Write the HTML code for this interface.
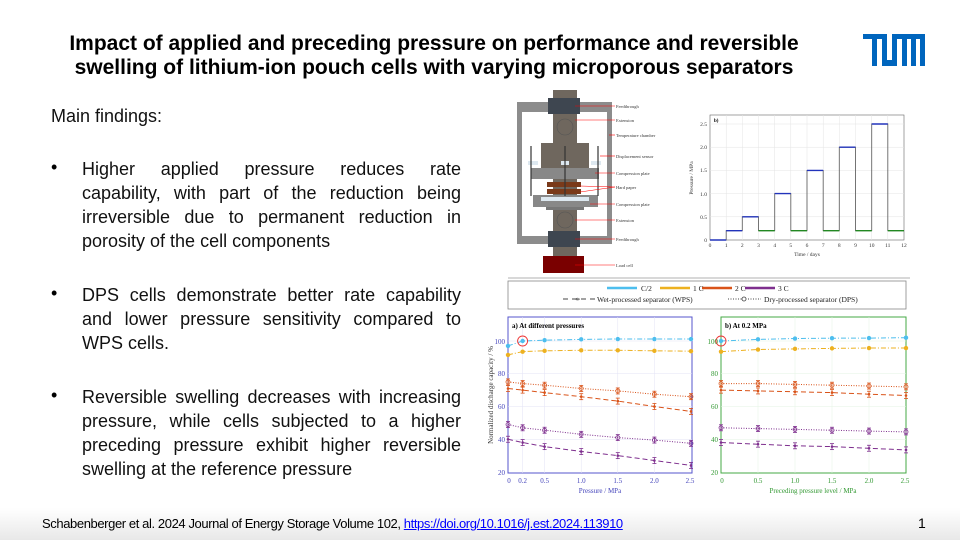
<!DOCTYPE html>
<html><head><meta charset="utf-8"><style>
html,body{margin:0;padding:0}
body{width:960px;height:540px;position:relative;overflow:hidden;background:#fff;font-family:"Liberation Sans",Arial,sans-serif}
.title{position:absolute;left:34px;top:32px;width:800px;text-align:center;font-weight:bold;font-size:21px;line-height:24px;color:#000;white-space:nowrap}
.txt{position:absolute;left:51px;width:410px;font-size:18px;line-height:24px;color:#111}
.b{position:absolute;left:51px;font-size:18px}
.bt{position:absolute;left:82px;width:379px;font-size:18px;line-height:24px;color:#111}
.bt div{text-align:justify;text-align-last:justify;white-space:nowrap}
.bt div.l{text-align-last:left}
.foot{position:absolute;left:0;top:508px;width:960px;height:32px;background:linear-gradient(#fff,#e8e8e8)}
.ref{position:absolute;left:42px;top:516px;font-size:13px;color:#000;letter-spacing:-0.4px}
.ref a{color:#00f;text-decoration:underline}
.pg{position:absolute;left:918px;top:515px;font-size:14px}
svg{position:absolute;left:0;top:0}
</style></head><body>
<div class="title">Impact of applied and preceding pressure on performance and reversible<br>swelling of lithium-ion pouch cells with varying microporous separators</div>
<div class="txt" style="top:104px">Main findings:</div>
<div class="b" style="top:157px">•</div>
<div class="bt" style="top:157px"><div>Higher applied pressure reduces rate</div><div>capability, with part of the reduction being</div><div>irreversible due to permanent reduction in</div><div class="l">porosity of the cell components</div></div>
<div class="b" style="top:283px">•</div>
<div class="bt" style="top:283px"><div>DPS cells demonstrate better rate capability</div><div>and lower pressure sensitivity compared to</div><div class="l">WPS cells.</div></div>
<div class="b" style="top:385px">•</div>
<div class="bt" style="top:385px"><div>Reversible swelling decreases with increasing</div><div>pressure, while cells subjected to a higher</div><div>preceding pressure exhibit higher reversible</div><div class="l">swelling at the reference pressure</div></div>
<div class="foot"></div>
<div class="ref">Schabenberger et al. 2024 Journal of Energy Storage Volume 102, <a>https://doi.org/10.1016/j.est.2024.113910</a></div>
<div class="pg">1</div>

<svg width="960" height="540" xmlns="http://www.w3.org/2000/svg" font-family="Liberation Serif, serif">
<!-- TUM logo -->
<g fill="#0065BD">
<rect x="863" y="34" width="24" height="5"/>
<rect x="892" y="34" width="33" height="5"/>
<rect x="872" y="34" width="5" height="32"/>
<rect x="882" y="34" width="5" height="32"/>
<rect x="882" y="60" width="15" height="6"/>
<rect x="892" y="34" width="5" height="32"/>
<rect x="902" y="34" width="5" height="32"/>
<rect x="911" y="34" width="5" height="32"/>
<rect x="920" y="34" width="5" height="32"/>
</g>
<!-- apparatus -->
<rect x="517" y="102" width="95" height="142" fill="#8c8c8c"/>
<rect x="522" y="112" width="85" height="124" fill="#fff"/>
<rect x="553" y="90" width="24" height="166" fill="#6f675e"/>
<rect x="548" y="98" width="32" height="16" fill="#3e4650"/>
<rect x="548" y="231" width="32" height="16" fill="#3e4650"/>
<circle cx="565" cy="127" r="8" fill="none" stroke="#555" stroke-width="0.6"/>
<circle cx="565" cy="220" r="8" fill="none" stroke="#555" stroke-width="0.6"/>
<rect x="541" y="143" width="48" height="25" fill="#6f675e"/>
<rect x="531" y="168" width="68" height="11" fill="#888"/>
<rect x="528" y="161" width="10" height="4" fill="#dde8f0"/>
<rect x="561" y="161" width="8" height="4" fill="#dde8f0"/>
<rect x="591" y="161" width="10" height="4" fill="#dde8f0"/>
<rect x="547" y="182" width="34" height="5" fill="#7a3a1a"/>
<rect x="547" y="189" width="34" height="5" fill="#7a3a1a"/>
<rect x="533" y="195" width="65" height="12" fill="#888"/>
<rect x="541" y="197" width="48" height="4" fill="#dde8f0"/>
<rect x="546" y="207" width="38" height="3" fill="#777"/>
<g stroke="#333" stroke-width="1.2"><line x1="531" y1="146" x2="531" y2="196"/><line x1="565" y1="146" x2="565" y2="196"/><line x1="598" y1="146" x2="598" y2="196"/></g>
<rect x="543" y="256" width="41" height="17" fill="#7a0000"/>
<g stroke="#f00" stroke-width="0.6">
<line x1="575" y1="106" x2="615" y2="106"/><line x1="575" y1="120" x2="615" y2="120"/><line x1="609" y1="135" x2="615" y2="135"/><line x1="600" y1="156" x2="615" y2="156"/><line x1="595" y1="173" x2="615" y2="173"/><line x1="580" y1="186" x2="615" y2="187"/><line x1="580" y1="192" x2="615" y2="187"/><line x1="590" y1="204" x2="615" y2="204"/><line x1="575" y1="220" x2="615" y2="220"/><line x1="575" y1="239" x2="615" y2="239"/><line x1="575" y1="265" x2="615" y2="265"/>
</g>
<g font-size="4.5" fill="#333">
<text x="616" y="108">Feedthrough</text><text x="616" y="122">Extension</text><text x="616" y="137">Temperature chamber</text><text x="616" y="158">Displacement sensor</text><text x="616" y="175">Compression plate</text><text x="616" y="189">Hard paper</text><text x="616" y="206">Compression plate</text><text x="616" y="222">Extension</text><text x="616" y="241">Feedthrough</text><text x="616" y="267">Load cell</text>
</g>
<line x1="508" y1="278" x2="910" y2="278" stroke="#999" stroke-width="0.8"/>
<!-- pressure chart -->
<rect x="710" y="115" width="194" height="125" fill="#fff" stroke="#666" stroke-width="0.6"/>
<g stroke="#e4e4e4" stroke-width="0.5">
<line x1="726.2" y1="115" x2="726.2" y2="240"/><line x1="742.3" y1="115" x2="742.3" y2="240"/><line x1="758.5" y1="115" x2="758.5" y2="240"/><line x1="774.7" y1="115" x2="774.7" y2="240"/><line x1="790.8" y1="115" x2="790.8" y2="240"/><line x1="807" y1="115" x2="807" y2="240"/><line x1="823.2" y1="115" x2="823.2" y2="240"/><line x1="839.3" y1="115" x2="839.3" y2="240"/><line x1="855.5" y1="115" x2="855.5" y2="240"/><line x1="871.7" y1="115" x2="871.7" y2="240"/><line x1="887.8" y1="115" x2="887.8" y2="240"/>
<line x1="710" y1="216.8" x2="904" y2="216.8"/><line x1="710" y1="193.6" x2="904" y2="193.6"/><line x1="710" y1="170.4" x2="904" y2="170.4"/><line x1="710" y1="147.2" x2="904" y2="147.2"/><line x1="710" y1="124" x2="904" y2="124"/>
</g>
<polyline fill="none" stroke="#666" stroke-width="0.9" points="710,240 726.2,240 726.2,230.7 742.3,230.7 742.3,216.8 758.5,216.8 758.5,230.7 774.7,230.7 774.7,193.6 790.8,193.6 790.8,230.7 807,230.7 807,170.4 823.2,170.4 823.2,230.7 839.3,230.7 839.3,147.2 855.5,147.2 855.5,230.7 871.7,230.7 871.7,124 887.8,124 887.8,230.7 904,230.7"/>
<g stroke="#2233bb" stroke-width="1.4">
<line x1="710" y1="240" x2="726.2" y2="240"/><line x1="726.2" y1="230.7" x2="742.3" y2="230.7"/><line x1="742.3" y1="216.8" x2="758.5" y2="216.8"/><line x1="774.7" y1="193.6" x2="790.8" y2="193.6"/><line x1="807" y1="170.4" x2="823.2" y2="170.4"/><line x1="839.3" y1="147.2" x2="855.5" y2="147.2"/><line x1="871.7" y1="124" x2="887.8" y2="124"/>
</g>
<g stroke="#228822" stroke-width="1.4">
<line x1="758.5" y1="230.7" x2="774.7" y2="230.7"/><line x1="790.8" y1="230.7" x2="807" y2="230.7"/><line x1="823.2" y1="230.7" x2="839.3" y2="230.7"/><line x1="855.5" y1="230.7" x2="871.7" y2="230.7"/><line x1="887.8" y1="230.7" x2="904" y2="230.7"/>
</g>
<text x="714" y="122" font-size="5" font-weight="bold">b)</text>
<g font-size="5.5" fill="#333" text-anchor="end">
<text x="707" y="242">0</text><text x="707" y="219">0.5</text><text x="707" y="196">1.0</text><text x="707" y="172">1.5</text><text x="707" y="149">2.0</text><text x="707" y="126">2.5</text>
</g>
<g font-size="5.5" fill="#333" text-anchor="middle">
<text x="710" y="247">0</text><text x="726.2" y="247">1</text><text x="742.3" y="247">2</text><text x="758.5" y="247">3</text><text x="774.7" y="247">4</text><text x="790.8" y="247">5</text><text x="807" y="247">6</text><text x="823.2" y="247">7</text><text x="839.3" y="247">8</text><text x="855.5" y="247">9</text><text x="871.7" y="247">10</text><text x="887.8" y="247">11</text><text x="904" y="247">12</text>
<text x="807" y="256">Time / days</text>
<text transform="translate(693,178) rotate(-90)">Pressure / MPa</text>
</g>
<!-- legend -->
<rect x="508" y="281" width="398" height="28" fill="#fff" stroke="#888" stroke-width="0.8"/>
<g stroke-width="2.5">
<line x1="607" y1="288" x2="637" y2="288" stroke="#4dbeee"/><line x1="660" y1="288" x2="690" y2="288" stroke="#edb120"/><line x1="702" y1="288" x2="732" y2="288" stroke="#d95319"/><line x1="745" y1="288" x2="775" y2="288" stroke="#7e2f8e"/>
</g>
<g font-size="7.5" fill="#222">
<text x="641" y="291">C/2</text><text x="693" y="291">1 C</text><text x="735" y="291">2 C</text><text x="778" y="291">3 C</text>
<text x="597" y="302">Wet-processed separator (WPS)</text><text x="764" y="302">Dry-processed separator (DPS)</text>
</g>
<line x1="563" y1="299" x2="595" y2="299" stroke="#444" stroke-width="0.9" stroke-dasharray="5,4"/>
<text x="575" y="301" font-size="6" fill="#444">⇹</text>
<line x1="728" y1="299" x2="761" y2="299" stroke="#444" stroke-width="0.9" stroke-dasharray="1,1.5"/>
<circle cx="744" cy="299" r="2" fill="#fff" stroke="#444" stroke-width="0.8"/>
<!-- plot a -->
<rect x="508" y="317" width="184" height="156" fill="#fff" stroke="#5555cc" stroke-width="1"/>
<g stroke="#e3e3f5" stroke-width="0.5">
<line x1="522.6" y1="317" x2="522.6" y2="473"/><line x1="544.6" y1="317" x2="544.6" y2="473"/><line x1="581.2" y1="317" x2="581.2" y2="473"/><line x1="617.8" y1="317" x2="617.8" y2="473"/><line x1="654.4" y1="317" x2="654.4" y2="473"/>
<line x1="508" y1="439.25" x2="692" y2="439.25"/><line x1="508" y1="406.5" x2="692" y2="406.5"/><line x1="508" y1="373.75" x2="692" y2="373.75"/><line x1="508" y1="341" x2="692" y2="341"/>
</g>
<!-- plot b -->
<rect x="721" y="317" width="185" height="156" fill="#fff" stroke="#44aa44" stroke-width="1"/>
<g stroke="#e3f3e3" stroke-width="0.5">
<line x1="758" y1="317" x2="758" y2="473"/><line x1="795" y1="317" x2="795" y2="473"/><line x1="832" y1="317" x2="832" y2="473"/><line x1="869" y1="317" x2="869" y2="473"/>
<line x1="721" y1="439.25" x2="906" y2="439.25"/><line x1="721" y1="406.5" x2="906" y2="406.5"/><line x1="721" y1="373.75" x2="906" y2="373.75"/><line x1="721" y1="341" x2="906" y2="341"/>
</g>
<g id="series"></g>
<circle cx="522.6" cy="341" r="5" fill="none" stroke="#e33" stroke-width="0.9"/>
<circle cx="721" cy="341" r="5" fill="none" stroke="#e33" stroke-width="0.9"/>
<text x="512" y="328" font-size="7" font-weight="bold">a) At different pressures</text>
<text x="725" y="328" font-size="7" font-weight="bold">b) At 0.2 MPa</text>
<g font-size="7" fill="#4444bb" text-anchor="end">
<text x="505" y="475">20</text><text x="505" y="442">40</text><text x="505" y="409">60</text><text x="505" y="376">80</text><text x="505" y="344">100</text>
</g>
<g font-size="7" fill="#4444bb" text-anchor="middle">
<text x="509" y="483">0</text><text x="522.6" y="483">0.2</text><text x="544.6" y="483">0.5</text><text x="581.2" y="483">1.0</text><text x="617.8" y="483">1.5</text><text x="654.4" y="483">2.0</text><text x="690" y="483">2.5</text>
<text x="600" y="493">Pressure / MPa</text>
</g>
<text transform="translate(493,395) rotate(-90)" font-size="7" fill="#333" text-anchor="middle">Normalized discharge capacity / %</text>
<g font-size="7" fill="#339933" text-anchor="end">
<text x="718" y="475">20</text><text x="718" y="442">40</text><text x="718" y="409">60</text><text x="718" y="376">80</text><text x="718" y="344">100</text>
</g>
<g font-size="7" fill="#339933" text-anchor="middle">
<text x="722" y="483">0</text><text x="758" y="483">0.5</text><text x="795" y="483">1.0</text><text x="832" y="483">1.5</text><text x="869" y="483">2.0</text><text x="905" y="483">2.5</text>
<text x="813" y="493">Preceding pressure level / MPa</text>
</g>
</svg>
<script>
(function(){
var NS="http://www.w3.org/2000/svg",g=document.getElementById("series");
function Y(v){return 472-(v-20)*1.6375;}
var pa=[0,0.2,0.5,1,1.5,2,2.5],pb=[0,0.5,1,1.5,2,2.5];
var A=[["#4dbeee","5,2,1,2",[97,100,100.5,101,101.2,101.2,101.2],"d"],
["#edb120","5,2,1,2",[91.5,93.5,94,94.3,94.3,94,93.8],"d"],
["#d95319","5,3",[71,70,68.5,66,63.3,60,57],"w"],
["#d95319","1,1.5",[75,74,73,71,69.5,67.5,66],"o"],
["#7e2f8e","5,3",[40,38,35.5,32.5,30,27,24],"w"],
["#7e2f8e","1,1.5",[49,47,45.5,43,41,39.5,37.5],"o"]];
var B=[["#4dbeee","5,2,1,2",[100,101,101.5,101.7,101.8,102],"d"],
["#edb120","5,2,1,2",[93.5,94.8,95.2,95.5,95.7,95.7],"d"],
["#d95319","5,3",[70,69.5,69,68.5,67.5,66.7],"w"],
["#d95319","1,1.5",[74,74,73.5,73,72.5,72],"o"],
["#7e2f8e","5,3",[38,37,36,35.5,34.5,33.5],"w"],
["#7e2f8e","1,1.5",[47,46.5,46,45.5,45,44.5],"o"]];
function el(n,a){var e=document.createElementNS(NS,n);for(var k in a)e.setAttribute(k,a[k]);g.appendChild(e);return e;}
function draw(S,P,x0,s){S.forEach(function(r){var pts=r[2].map(function(v,i){return (x0+P[i]*s).toFixed(1)+","+Y(v).toFixed(1);});
el("polyline",{points:pts.join(" "),fill:"none",stroke:r[0],"stroke-width":1,"stroke-dasharray":r[1]});
r[2].forEach(function(v,i){var x=x0+P[i]*s,y=Y(v);
if(r[3]=="d"){el("circle",{cx:x,cy:y,r:2.2,fill:r[0]});}
else{el("line",{x1:x,y1:y-3,x2:x,y2:y+3,stroke:r[0],"stroke-width":0.8});el("line",{x1:x-2,y1:y-3,x2:x+2,y2:y-3,stroke:r[0],"stroke-width":0.8});el("line",{x1:x-2,y1:y+3,x2:x+2,y2:y+3,stroke:r[0],"stroke-width":0.8});
if(r[3]=="o")el("circle",{cx:x,cy:y,r:2,fill:"none",stroke:r[0],"stroke-width":0.8});else el("circle",{cx:x,cy:y,r:1.3,fill:r[0]});}});});}
draw(A,pa,508,73.2);draw(B,pb,721,74);
})();
</script>
</body></html>
